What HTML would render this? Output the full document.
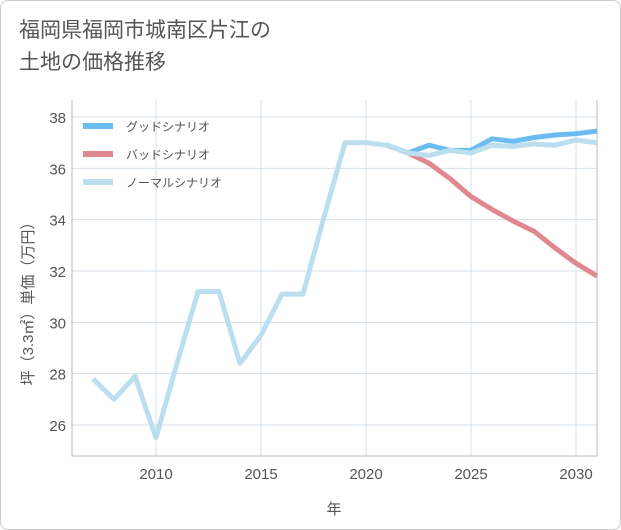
<!DOCTYPE html>
<html><head><meta charset="utf-8"><style>
body{margin:0;background:#fff;font-family:"Liberation Sans","Noto Sans CJK JP",sans-serif;}
#card{position:absolute;left:0;top:0;width:619px;height:528px;border:1px solid #ccc;border-radius:8px;background:#fff;}
#title{position:absolute;left:18px;top:14px;font-size:21px;line-height:32px;color:#555;}
</style></head><body>
<div id="card">
<div id="title">福岡県福岡市城南区片江の<br>土地の価格推移</div>
<svg id="chart" width="621" height="530" style="position:absolute;left:-1px;top:-1px"></svg>
</div>
<script>
const years=[2007,2008,2009,2010,2011,2012,2013,2014,2015,2016,2017,2018,2019,2020,2021,2022,2023,2024,2025,2026,2027,2028,2029,2030,2031];
const normalVals=[27.8,27.0,27.9,25.5,28.4,31.2,31.2,28.4,29.5,31.1,31.1,34.1,37.0,37.0,36.9,36.6,36.5,36.7,36.6,36.9,36.85,36.95,36.9,37.1,37.0];
const goodYears=[2021,2022,2023,2024,2025,2026,2027,2028,2029,2030,2031];
const goodVals=[36.9,36.6,36.9,36.7,36.7,37.15,37.05,37.2,37.3,37.35,37.45];
const badVals=[36.9,36.6,36.2,35.6,34.9,34.4,33.95,33.55,32.9,32.3,31.8];
const xTicks=[2010,2015,2020,2025,2030];
const yTicks=[26,28,30,32,34,36,38];
const NS="http://www.w3.org/2000/svg";
const svg=document.getElementById('chart');
const L=72,R=597,T=100,B=456;
const x=v=>156+(v-2010)*21;
const y=v=>117+(38-v)*(308/12);
function mk(t,a){const e=document.createElementNS(NS,t);for(const k in a)e.setAttribute(k,a[k]);svg.appendChild(e);return e;}
const bg=mk('rect',{x:L,y:T,width:R-L,height:B-T,fill:'#fff',stroke:'none'});


xTicks.forEach(t=>{
 const g=mk('line',{x1:x(t),x2:x(t),y1:T,y2:B,stroke:'#d6e0e8','stroke-width':1});
 
 
 const l=mk('text',{x:x(t),y:479,'text-anchor':'middle','font-size':15,fill:'#555'});
 l.textContent=t;
 
 
});
yTicks.forEach(t=>{
 const g=mk('line',{x1:L,x2:R,y1:y(t),y2:y(t),stroke:'#d6e0e8','stroke-width':1});
 
 
 const l=mk('text',{x:66,y:y(t)+6,'text-anchor':'end','font-size':15,fill:'#555'});
 l.textContent=t;
 
 
});
const ax=mk('path',{d:`M${L} ${T}V${B}H${R}V${T}`,fill:'none',stroke:'#bbb','stroke-width':1});


function line(xs,vs,col,name){
 const p=mk('polyline',{points:xs.map((t,i)=>x(t)+','+y(vs[i])).join(' '),fill:'none',stroke:col,'stroke-width':5,'stroke-linejoin':'round'});
 
 
}
line(goodYears,goodVals,'#6bbcf0','good-scenario-line');
line(goodYears,badVals,'#e08890','bad-scenario-line');
line(years,normalVals,'#bcdff0','normal-scenario-line');
const leg=[['グッドシナリオ','#6bbcf0'],['バッドシナリオ','#e08890'],['ノーマルシナリオ','#bcdff0']];
leg.forEach((d,i)=>{
 const yy=126+i*28;
 const s=mk('line',{x1:83,x2:113,y1:yy,y2:yy,stroke:d[1],'stroke-width':6});
 
 
 const t=mk('text',{x:126,y:yy+5,'font-size':12,fill:'#555'});
 t.textContent=d[0];
 
 
});
const xt=mk('text',{x:334,y:514,'text-anchor':'middle','font-size':15,fill:'#555'});
xt.textContent='年';


const yt=mk('text',{x:0,y:0,'text-anchor':'middle','font-size':15,fill:'#555',transform:'translate(33,300) rotate(-90)'});
yt.textContent='坪（3.3㎡）単価（万円）';


</script>
</body></html>
